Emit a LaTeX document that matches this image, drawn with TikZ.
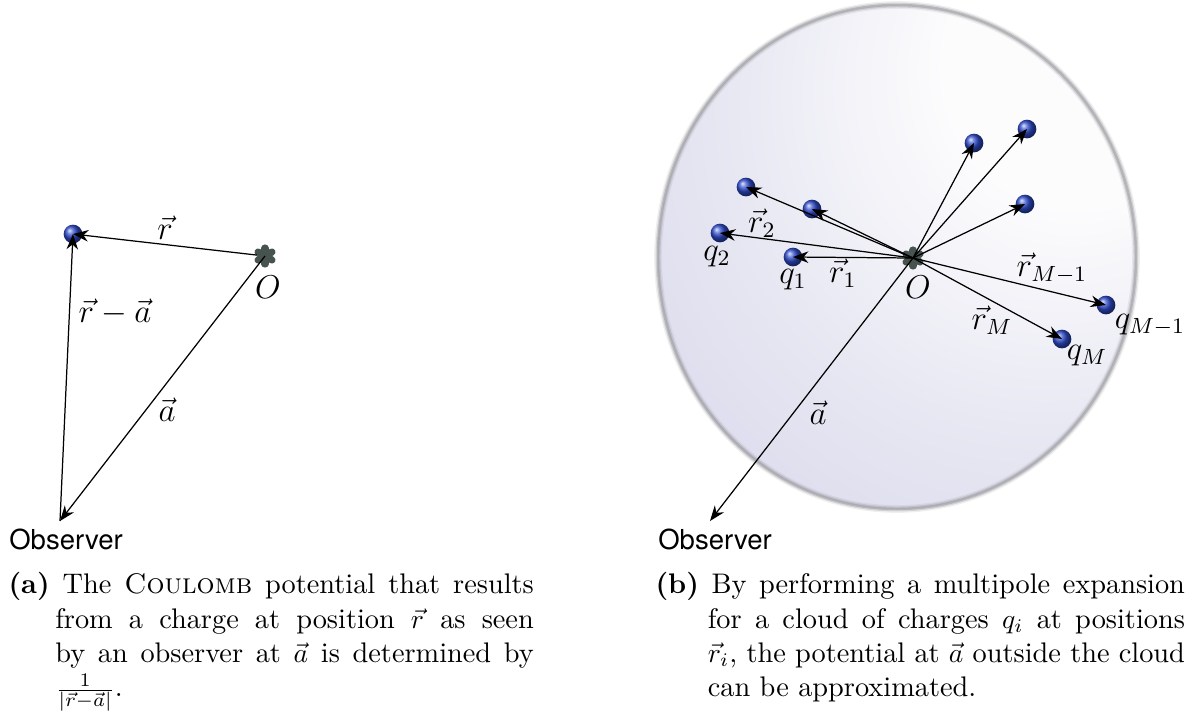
\documentclass[tikz,border=0pt]{standalone}
\usepackage{amsmath}
\usepackage{fontspec}
\newfontfamily\obsfont{TeX Gyre Heros}
\usepackage{xcolor}
\definecolor{ChargeBlue}{HTML}{2F4CCC}
\definecolor{StarGray}{HTML}{46534F}
\definecolor{CloudDark}{HTML}{C4C4E2}
\definecolor{CloudMid}{HTML}{E8E8F3}
\definecolor{CloudLight}{HTML}{FCFCFD}
\definecolor{RimGray}{HTML}{96969C}
\usepackage{tikz}
\usetikzlibrary{positioning,calc,arrows.meta}
\pgfdeclareradialshading{cloudshade}{\pgfpoint{22bp}{22bp}}{%
 color(0bp)=(CloudLight); color(14bp)=(CloudLight); color(32bp)=(CloudMid);
 color(72bp)=(CloudDark); color(100bp)=(CloudDark)}

\begin{document}
\begin{tikzpicture}[x=0.3636pt,y=-0.3636pt,
 vec/.style={-{Stealth[length=5.6pt,width=4.2pt,inset=1.8pt]},line width=0.45pt},
 charge/.style={circle,inner sep=0pt,minimum size=6.8pt,ball color=ChargeBlue},
 lab/.style={font=\fontsize{12}{14}\selectfont,inner sep=0pt},
 obs/.style={font=\obsfont\fontsize{10}{12}\selectfont,inner sep=0pt},
 capbox/.style={text width=191pt,align=justify,inner sep=0pt,anchor=north west,font=\fontsize{10.3}{12.5}\selectfont}]
\useasboundingbox (0,0) rectangle (1197,720);
% cloud
\shade[shading=cloudshade] (897,257) ellipse [x radius=239,y radius=252];
\foreach \w/\op in {2.8pt/0.15,1.8pt/0.3,0.9pt/0.5}
 \draw[RimGray,opacity=\op,line width=\w] (897,257) ellipse [x radius=239,y radius=252];
% origins
\coordinate (OL) at (265,256);
\coordinate (OR) at (913,258);
\foreach \o in {OL,OR}
 \foreach \ang in {90,30,-30}
  \draw[StarGray,line width=2.6pt,line cap=round] ($(\o)+(\ang:8)$) -- ($(\o)+(\ang+180:8)$);
\node[lab] (OLlab) at (268,287) {$O$};
\node[lab] (ORlab) at (918,287) {$O$};
% left picture
\node[charge] (qL) at (73,234) {};
\coordinate (obsL) at (60,521);
\node[obs] (obsLtext) at (66,539) {Observer};
\draw[vec,shorten <=3pt] (OL) -- (qL.center);
\draw[vec] (obsL) -- (qL.center);
\draw[vec] (OL) -- (obsL);
\node[lab] at (165,228) {$\vec r$};
\node[lab] at (115,312) {$\vec r-\vec a$};
\node[lab] at (167,410) {$\vec a$};
% right picture
\foreach \n/\x/\y in {1/793/257,2/720/233,3/746/187,4/812/209,5/974/143,
 6/1027/129,7/1025/204,8/1106/305,9/1062/339}
 \node[charge] (c\n) at (\x,\y) {};
\coordinate (obsR) at (710,521);
\node[obs] (obsRtext) at (715,539) {Observer};
\foreach \n in {1,...,9}
 \draw[vec] (OR) -- (c\n.center);
\draw[vec] (OR) -- (obsR);
\node[lab] at (793,280) {$q_1$};
\node[lab] at (717,257) {$q_2$};
\node[lab] at (843,273) {$\vec r_1$};
\node[lab] at (762,223) {$\vec r_2$};
\node[lab] at (1052,268) {$\vec r_{M-1}$};
\node[lab] at (992,320) {$\vec r_M$};
\node[lab] at (1150,325) {$q_{M-1}$};
\node[lab] at (1087,356) {$q_M$};
\node[lab] at (818,413) {$\vec a$};
% captions
\node[capbox] (capa) at (8,572) {\hangindent=17pt\hangafter1
 \textbf{(a)}\ The \textsc{Coulomb} potential that results\linebreak from a charge at position $\vec r$ as seen\linebreak by an observer at $\vec a$ is determined by\linebreak $\frac{1}{|\vec r-\vec a|}$.\par};
\node[capbox,text width=192.5pt] (capb) at (655,572) {\hangindent=19pt\hangafter1
 \textbf{(b)}\ By performing a multipole expansion\linebreak for a cloud of charges $q_i$ at positions\linebreak $\vec r_i$, the potential at $\vec a$ outside the cloud\linebreak can be approximated.\par};
\end{tikzpicture}
\end{document}
